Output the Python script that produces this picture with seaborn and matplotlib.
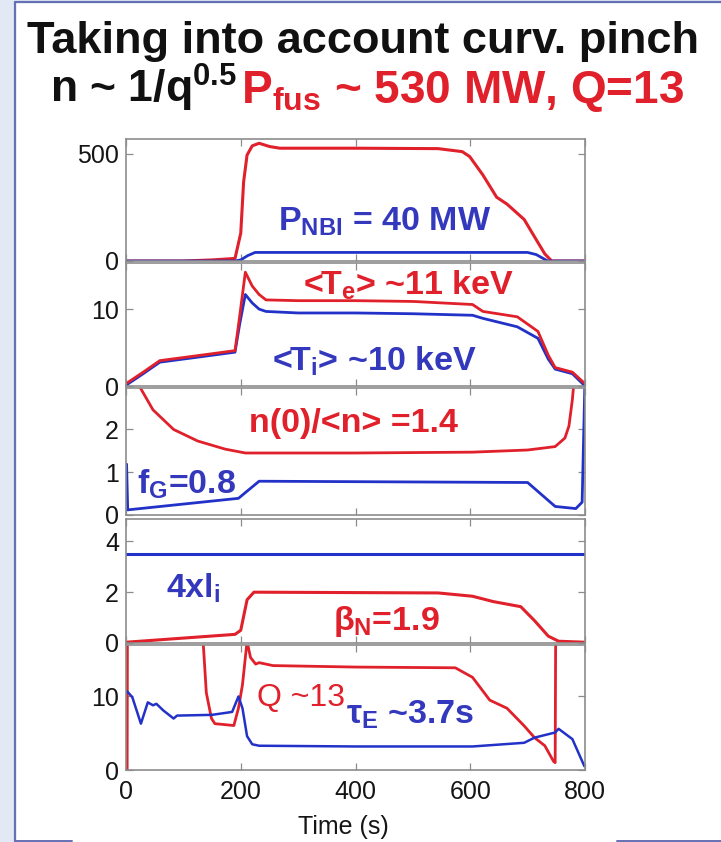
import matplotlib
matplotlib.use("Agg")
import matplotlib.pyplot as plt
import seaborn as sns
import pandas as pd
from matplotlib.patches import Rectangle
from matplotlib.lines import Line2D

# ---------------- data ----------------
t_pfus = [0, 100, 150, 190, 200, 205, 211, 220, 232, 250, 268, 400, 544, 586, 599, 622, 646, 664, 694, 712, 730, 742, 800]
pfus = [0, 0, 5, 12, 130, 370, 495, 538, 550, 535, 527, 527, 525, 511, 488, 402, 298, 266, 194, 113, 33, 0, 0]

t_pnbi = [0, 190, 200, 212, 225, 700, 715, 735, 800]
pnbi = [0, 0, 5, 25, 40, 40, 30, 0, 0]

t_temp = [0, 30, 59, 120, 190, 198, 208, 220, 232, 244, 300, 400, 500, 604, 622, 682, 718, 736, 748, 778, 800]
te = [0.3, 1.8, 3.3, 3.9, 4.6, 9.0, 14.8, 13.0, 11.9, 11.2, 11.1, 11.1, 11.0, 10.6, 9.7, 9.0, 7.1, 4.0, 2.4, 1.8, 0.3]
ti = [0.1, 1.6, 3.1, 3.7, 4.4, 8.0, 11.9, 10.8, 10.0, 9.7, 9.5, 9.5, 9.4, 9.2, 8.8, 7.7, 6.2, 3.5, 2.2, 1.6, 0.0]

t_peak = [20, 26, 47, 83, 125, 173, 208, 400, 604, 700, 748, 765, 772, 778, 782]
n0_navg = [3.3, 2.95, 2.46, 2.0, 1.73, 1.54, 1.45, 1.45, 1.47, 1.52, 1.6, 1.8, 2.08, 2.7, 3.3]

t_fg = [0, 1, 3, 196, 232, 700, 748, 784, 795, 800]
f_g = [1.19, 1.19, 0.12, 0.39, 0.79, 0.76, 0.2, 0.15, 0.3, 3.2]

t_li = [0, 800]
li4 = [3.5, 3.5]

t_bn = [0, 190, 200, 211, 223, 544, 604, 640, 688, 712, 736, 754, 800]
beta_n = [0.03, 0.34, 0.5, 1.7, 2.0, 1.97, 1.84, 1.63, 1.43, 0.88, 0.27, 0.07, 0.03]

t_q = [0, 2, 3, 130, 134, 140, 149, 155, 188, 196, 203, 211, 217, 226, 232, 256, 400, 574, 604, 634, 664, 694, 712, 730, 745, 748, 750, 800]
q_gain = [0, 0, 40, 40, 18, 10.5, 7.0, 6.3, 6.05, 8.4, 11.6, 17.5, 15.3, 14.4, 14.6, 14.2, 14.0, 13.9, 12.6, 9.5, 8.4, 6.0, 4.4, 3.3, 1.2, 1.0, 40, 40]

t_tau = [2, 11, 26, 38, 47, 53, 65, 83, 89, 150, 185, 196, 203, 211, 220, 232, 400, 604, 694, 712, 748, 754, 778, 799]
tau_e = [10.7, 9.9, 6.3, 9.2, 8.8, 9.0, 8.1, 7.0, 7.4, 7.5, 7.9, 10.0, 8.4, 4.6, 3.5, 3.3, 3.2, 3.2, 3.7, 4.4, 5.1, 5.6, 4.2, 0.5]

x_ticks = [0, 200, 400, 600, 800]
y_ticks = [[0, 500], [0, 10], [0, 1, 2], [0, 2, 4], [0, 10]]
y_lims = [(0, 570), (0, 16), (0, 2.97), (0, 4.88), (0, 17)]

# ---------------- style ----------------
sns.set_theme(style="ticks")
plt.rcParams["font.family"] = ["Liberation Sans", "DejaVu Sans"]
plt.rcParams["mathtext.fontset"] = "custom"
plt.rcParams["mathtext.rm"] = "Liberation Sans:bold"
plt.rcParams["mathtext.it"] = "Liberation Sans:bold"
plt.rcParams["mathtext.bf"] = "Liberation Sans:bold"

RED = "#e0202a"
BLUE = "#2232c8"
TBLUE = "#3338bd"
W, H = 721, 842

fig = plt.figure(figsize=(W / 100, H / 100), dpi=100, facecolor="white")


def fx(px):
    return px / W


def fy(py):
    return 1 - py / H


# background strip and slide box border
fig.add_artist(Rectangle((0, 0), fx(15), 1, transform=fig.transFigure, color="#e2e9f5", zorder=0))
fig.add_artist(Rectangle((0, fy(2)), 1, 1 - fy(2), transform=fig.transFigure, color="#e2e9f5", zorder=0))
bc = "#6670b4"
fig.add_artist(Line2D([fx(15), fx(15)], [fy(841), fy(2)], transform=fig.transFigure, color=bc, lw=1.6))
fig.add_artist(Line2D([fx(15), 1], [fy(2), fy(2)], transform=fig.transFigure, color=bc, lw=1.6))
fig.add_artist(Line2D([fx(15), fx(72)], [fy(840.5), fy(840.5)], transform=fig.transFigure, color=bc, lw=1.4))
fig.add_artist(Line2D([fx(617), 1], [fy(840.5), fy(840.5)], transform=fig.transFigure, color=bc, lw=1.4))

# axes positions (pixel tops/bottoms)
left_px, right_px = 126, 585
panels_px = [(139, 261), (263, 386), (388, 515), (519, 643), (645, 770)]
axes = []
for top, bot in panels_px:
    ax = fig.add_axes([fx(left_px), fy(bot), fx(right_px - left_px), (bot - top) / H])
    axes.append(ax)


def draw(ax, t, v, color, lw):
    df = pd.DataFrame({"t": t, "v": v})
    sns.lineplot(data=df, x="t", y="v", ax=ax, color=color, lw=lw,
                 estimator=None, sort=False, legend=False)


draw(axes[0], t_pfus, pfus, RED, 2.2)
draw(axes[0], t_pnbi, pnbi, BLUE, 2.0)
draw(axes[1], t_temp, ti, BLUE, 2.0)
draw(axes[1], t_temp, te, RED, 2.0)
draw(axes[2], t_peak, n0_navg, RED, 2.0)
draw(axes[2], t_fg, f_g, BLUE, 2.0)
draw(axes[3], t_li, li4, BLUE, 2.2)
draw(axes[3], t_bn, beta_n, RED, 2.2)
draw(axes[4], t_q, q_gain, RED, 2.0)
draw(axes[4], t_tau, tau_e, BLUE, 1.8)

for i, ax in enumerate(axes):
    ax.set_xlim(0, 800)
    ax.set_ylim(*y_lims[i])
    ax.set_xticks(x_ticks)
    ax.set_yticks(y_ticks[i])
    ax.set_ylabel("")
    ax.set_xlabel("")
    for s in ax.spines.values():
        s.set_color("#8c8c8c")
        s.set_linewidth(1.2)
    ax.tick_params(direction="in", top=True, right=True, length=5, width=0.9,
                   color="#8c8c8c", labelsize=18, labelcolor="#151515", pad=5)
    ax.tick_params(axis="x", pad=7)
    if i < 4:
        ax.tick_params(labelbottom=False)
    ax.set_facecolor("white")

axes[4].set_xlabel("Time (s)", fontsize=18, color="#151515")
axes[4].xaxis.set_label_coords((343 - left_px) / (right_px - left_px), -0.36)

# ---------------- texts ----------------
fig.text(fx(363), fy(53), "Taking into account curv. pinch", fontsize=32.5,
         fontweight="bold", color="#111111", ha="center", va="baseline")
fig.text(fx(50), fy(103), r"n ~ 1/q$^{0.5}$", fontsize=32, fontweight="bold",
         color="#111111", ha="left", va="baseline")
fig.text(fx(241), fy(103), r"P$_{\rm fus}$ ~ 530 MW, Q=13", fontsize=33,
         fontweight="bold", color=RED, ha="left", va="baseline")

ann = dict(fontsize=24.5, fontweight="bold", ha="left", va="baseline")
fig.text(fx(278), fy(231), r"P$_{\rm NBI}$ = 40 MW", color=TBLUE, **ann)
fig.text(fx(303), fy(295), r"<T$_{\rm e}$> ~11 keV", color=RED, **ann)
fig.text(fx(272), fy(371), r"<T$_{\rm i}$> ~10 keV", color=TBLUE, **ann)
fig.text(fx(249), fy(432), r"n(0)/<n> =1.4", color=RED, **ann)
fig.text(fx(137), fy(494), r"f$_{\rm G}$=0.8", color=TBLUE, **ann)
fig.text(fx(166), fy(598), r"4xl$_{\rm i}$", color=TBLUE, **ann)
fig.text(fx(333), fy(630), r"$\beta_{\rm N}$=1.9", color=RED, **ann)
fig.text(fx(257), fy(706), "Q ~13", color=RED, fontsize=23, fontweight="normal",
         ha="left", va="baseline")
fig.text(fx(346), fy(724), r"$\tau_{\rm E}$ ~3.7s", color=TBLUE, **ann)

fig.savefig("out.png", dpi=100, facecolor="white")
